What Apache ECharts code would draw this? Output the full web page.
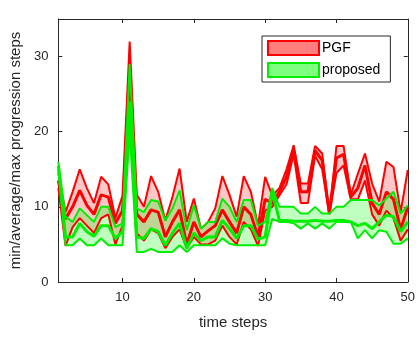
<!DOCTYPE html>
<html>
<head>
<meta charset="utf-8">
<script src="https://cdn.jsdelivr.net/npm/echarts@6/dist/echarts.min.js"></script>
<style>
  html, body { margin: 0; padding: 0; background: #fff; }
  #chart { width: 418px; height: 337px; }
</style>
</head>
<body>
<div id="chart"></div>
<script>
const steps = [1, 2, 3, 4, 5, 6, 7, 8, 9, 10, 11, 12, 13, 14, 15, 16, 17, 18, 19, 20,
  21, 22, 23, 24, 25, 26, 27, 28, 29, 30, 31, 32, 33, 34, 35, 36, 37, 38, 39, 40,
  41, 42, 43, 44, 45, 46, 47, 48, 49, 50]

// PGF: min / average / max per time step
const pgfMax = [14.5, 9.3, 12, 15, 12.5, 10.5, 14, 13, 8.5, 11.5,
  32, 11.6, 10, 14.1, 12, 8.2, 11.3, 15.1, 8, 11.1,
  7.1, 8, 9.8, 14.1, 11.6, 8.7, 14.1, 12, 7.5, 14,
  11.5, 12.5, 15, 18.2, 13.1, 13.1, 18.1, 17.1, 9.1, 18.1,
  18.1, 11.6, 14.4, 17.1, 13.1, 10.7, 16, 15.3, 9.3, 14.9]
const pgfAvg = [13.5, 8.4, 10, 12.2, 10.2, 9, 11.6, 11.3, 7.8, 9.5,
  27, 9, 8, 9.6, 9.3, 6, 8, 9.6, 5, 8,
  6, 6.8, 7.5, 9.6, 8, 6.5, 10, 9, 6, 11,
  10.5, 12, 14, 17.5, 12, 12, 17.5, 16.2, 9.1, 16.5,
  17, 11.3, 12.5, 15.5, 10.5, 9, 12, 11, 7, 10]
const pgfMin = [12.5, 4.8, 7.3, 8.5, 7.5, 6.5, 8.5, 9, 5, 7.5,
  22, 6.5, 5.5, 7, 6.5, 4.5, 6, 7, 4.5, 6,
  5, 5, 5.5, 7.5, 6, 5, 8, 7, 4.8, 9.5,
  10, 11.5, 13, 17, 10.5, 10.5, 16.8, 15, 9, 14.5,
  15.5, 11, 11, 13.5, 9, 7.5, 9.5, 8.5, 5.5, 7]

// proposed: min / average / max per time step
const propMax = [16, 8.7, 8, 9.8, 8.9, 8, 10, 10, 7.3, 7.8,
  29, 9.8, 9.3, 10.9, 10.7, 8.2, 9.8, 12.2, 6.9, 10.2,
  7.1, 8, 8, 11.1, 10, 8, 10.9, 10.9, 7.5, 8,
  12.5, 10, 10, 10, 9.1, 9.1, 10, 9.1, 9.1, 10,
  10, 10.9, 10.9, 10.9, 10.9, 10.2, 11.1, 12, 9.1, 10.2]
const propAvg = [15.5, 6, 6, 7.8, 6.7, 6.1, 7.5, 7.5, 5.8, 6.7,
  24, 6, 5.8, 7.1, 6.7, 4.9, 6.5, 7.8, 4.5, 6.5,
  5.5, 6, 6, 8.2, 7.1, 5.8, 7.5, 7.5, 5.7, 6,
  12, 8.2, 8.2, 8.1, 8.1, 8.1, 8.2, 8.1, 8.1, 8.2,
  8.2, 8, 7.5, 7.8, 7.1, 8, 8.9, 8.7, 6.7, 8]
const propMin = [15, 4.9, 4.9, 5.8, 4.9, 4.9, 5.8, 4.9, 4.9, 4.9,
  20, 4, 4, 4.4, 4, 4, 4, 4.9, 4, 4.9,
  4.9, 4.9, 4.9, 5.8, 5.1, 4.9, 4.9, 4.9, 4.9, 4.9,
  8.4, 8, 8, 7.8, 7.1, 7.8, 7.1, 7.8, 7.1, 8,
  8, 8, 5.8, 6.9, 5.8, 6.9, 6.7, 5.1, 5.1, 5.8]

const xTickEvery = 10
const yTicks = [0, 10, 20, 30]

const axisColor = '#262626'
const font = 'Liberation Sans, Arial, sans-serif'

const diffs = (lo, hi) => hi.map((v, i) => +(v - lo[i]).toFixed(2))
const onTick = (i) => steps[i] % xTickEvery === 0

// band between min and max + the three lines
function group(name, stack, lo, avg, hi, lineColor, fillColor) {
  return [
    {
      name: name + ' base', type: 'line', stack, data: lo,
      symbol: 'none', lineStyle: { opacity: 0 }, silent: true
    },
    {
      name, type: 'line', stack, data: diffs(lo, hi),
      symbol: 'none', lineStyle: { opacity: 0 },
      areaStyle: { color: fillColor, opacity: 1 }, silent: true
    },
    { name: name + ' min', type: 'line', data: lo, symbol: 'none', lineStyle: { color: lineColor, width: 2 } },
    { name: name + ' max', type: 'line', data: hi, symbol: 'none', lineStyle: { color: lineColor, width: 2 } },
    { name: name + ' avg', type: 'line', data: avg, symbol: 'none', lineStyle: { color: lineColor, width: 3 } }
  ]
}

const chart = echarts.init(document.getElementById('chart'))

const xBase = {
  type: 'category', data: steps, boundaryGap: false,
  axisLine: { onZero: false, lineStyle: { color: axisColor } },
  axisTick: { inside: true, length: 4, interval: onTick, lineStyle: { color: axisColor } },
  splitLine: { show: false }
}
const yBase = {
  type: 'value', min: 0, max: 35,
  axisLine: { show: true, onZero: false, lineStyle: { color: axisColor } },
  axisTick: { show: true, inside: true, length: 4, customValues: yTicks, lineStyle: { color: axisColor } },
  splitLine: { show: false }
}

const option = {
  animation: false,
  grid: { left: 56, right: 9, top: 19, bottom: 55 },
  legend: {
    orient: 'vertical',
    left: 262,
    top: 36,
    itemWidth: 51,
    itemHeight: 14,
    itemGap: 6,
    padding: [4, 10, 4, 5],
    borderColor: axisColor,
    borderWidth: 1,
    backgroundColor: '#fff',
    textStyle: { fontFamily: font, fontSize: 14, color: '#000', padding: [0, 0, 0, -2] },
    data: [
      { name: 'PGF', icon: 'rect', itemStyle: { color: 'rgba(255,0,0,0.5)', borderColor: '#ff0000', borderWidth: 2 } },
      { name: 'proposed', icon: 'rect', itemStyle: { color: 'rgba(0,255,0,0.5)', borderColor: '#00ee00', borderWidth: 2 } }
    ]
  },
  xAxis: [
    {
      ...xBase,
      name: 'time steps', nameLocation: 'middle', nameGap: 33,
      nameTextStyle: { fontFamily: font, fontSize: 15, color: axisColor },
      axisLabel: { interval: onTick, fontFamily: font, fontSize: 13, color: axisColor, margin: 9 }
    },
    { ...xBase, position: 'top', axisLabel: { show: false } }
  ],
  yAxis: [
    {
      ...yBase,
      name: 'min/average/max progression steps', nameLocation: 'middle', nameGap: 35,
      nameTextStyle: { fontFamily: font, fontSize: 15, color: axisColor },
      axisLabel: { customValues: yTicks, fontFamily: font, fontSize: 13, color: axisColor, margin: 10 }
    },
    { ...yBase, position: 'right', axisLabel: { show: false } }
  ],
  series: [
    ...group('PGF', 'pgf', pgfMin, pgfAvg, pgfMax, '#ff0000', 'rgba(255,0,0,0.22)'),
    ...group('proposed', 'prop', propMin, propAvg, propMax, '#00ee00', 'rgba(0,255,0,0.25)')
  ]
}

chart.setOption(option)
</script>
</body>
</html>
